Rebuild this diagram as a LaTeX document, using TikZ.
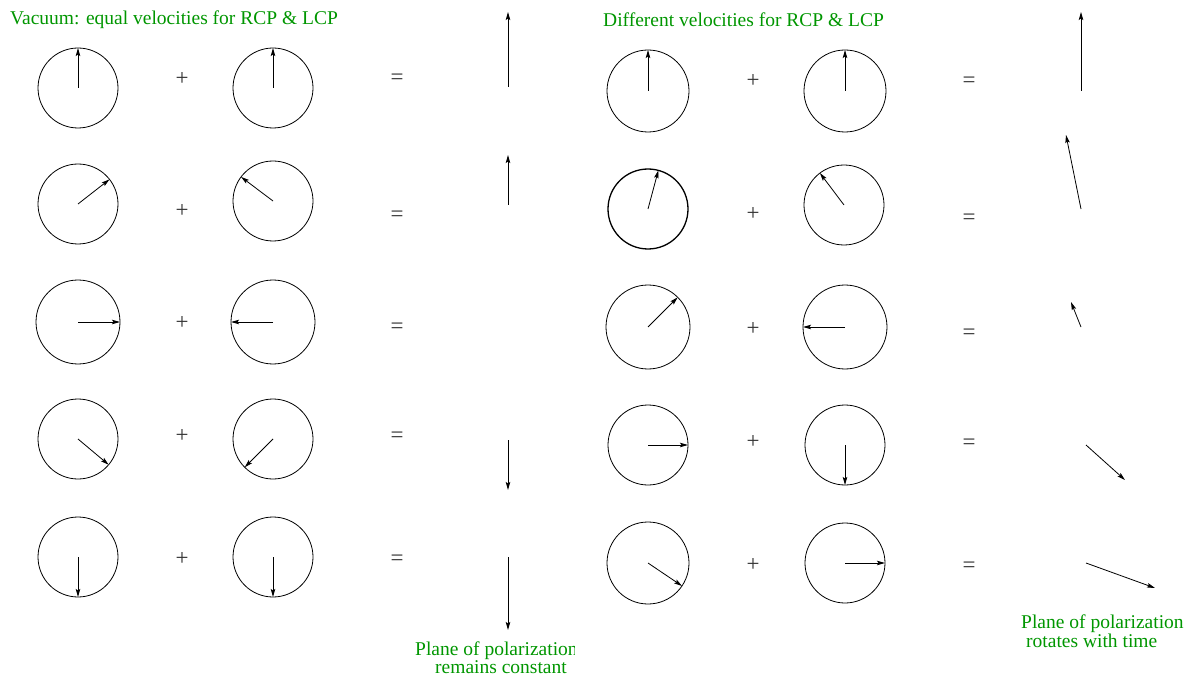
\documentclass[tikz,border=0pt]{standalone}
\usepackage{fontspec}
\setmainfont{Liberation Serif}
\usetikzlibrary{arrows.meta}
\definecolor{labelgreen}{RGB}{0,150,0}
\begin{document}
\begin{tikzpicture}[x=1pt,y=-1pt,
  wheel/.style={circle,draw,line width=0.8pt,inner sep=0pt,outer sep=0pt,minimum size=#1},
  wheel/.default=80pt,
  vec/.style={line width=0.8pt,-{Stealth[length=8pt,width=4.5pt,inset=1.5pt]}},
  op/.style={font=\fontsize{23}{24}\selectfont,text=black!80,anchor=base,inner sep=0pt},
  caption/.style={font=\fontsize{19.5}{20}\selectfont,text=labelgreen,anchor=base west,inner sep=0pt}]
\useasboundingbox (0,0) rectangle (1184,679);

% ---------------- vacuum: equal phase velocities ----------------
\node[caption] (titleL) at (10,25) {Vacuum: equal velocities for RCP \& LCP};

% row 1
\node[wheel] (L1a) at (78,88) {};
\node[wheel] (L1b) at (273,88) {};
\draw[vec] (L1a.center) -- (L1a.90);
\draw[vec] (L1b.center) -- (L1b.90);
\node[op] (L1p) at (182,86) {+};
\node[op] (L1e) at (397,85) {=};
\coordinate (L1s) at (508,87); \coordinate (L1t) at (508,12);
\draw[vec] (L1s) -- (L1t);

% row 2
\node[wheel] (L2a) at (78,204) {};
\node[wheel] (L2b) at (273,201) {};
\draw[vec] (L2a.center) -- (L2a.38);
\draw[vec] (L2b.center) -- (L2b.143);
\node[op] (L2p) at (182,218) {+};
\node[op] (L2e) at (397,222) {=};
\coordinate (L2s) at (508,205); \coordinate (L2t) at (508,155);
\draw[vec] (L2s) -- (L2t);

% row 3
\node[wheel=84pt] (L3a) at (78,322) {};
\node[wheel=84pt] (L3b) at (273,322) {};
\draw[vec] (L3a.center) -- (L3a.0);
\draw[vec] (L3b.center) -- (L3b.180);
\node[op] (L3p) at (182,330) {+};
\node[op] (L3e) at (397,334) {=};

% row 4
\node[wheel] (L4a) at (78,439) {};
\node[wheel] (L4b) at (273,439) {};
\draw[vec] (L4a.center) -- (L4a.-40);
\draw[vec] (L4b.center) -- (L4b.225);
\node[op] (L4p) at (182,442) {+};
\node[op] (L4e) at (397,442) {=};
\coordinate (L4s) at (508,440); \coordinate (L4t) at (508,490);
\draw[vec] (L4s) -- (L4t);

% row 5
\node[wheel] (L5a) at (78,557) {};
\node[wheel] (L5b) at (273,557) {};
\draw[vec] (L5a.center) -- (L5a.270);
\draw[vec] (L5b.center) -- (L5b.270);
\node[op] (L5p) at (182,565) {+};
\node[op] (L5e) at (397,565) {=};
\coordinate (L5s) at (508,557); \coordinate (L5t) at (508,630);
\draw[vec] (L5s) -- (L5t);

\begin{scope}
  \clip (0,0) rectangle (574,679);
  \node[caption] (capL1) at (415,655) {Plane of polarization};
\end{scope}
\node[caption] (capL2) at (435,673) {remains constant};

% ---------------- medium: different phase velocities ----------------
\node[caption] (titleR) at (603,27) {Different velocities for RCP \& LCP};

% row 1
\node[wheel=82pt] (R1a) at (648,91) {};
\node[wheel=82pt] (R1b) at (845,91) {};
\draw[vec] (R1a.center) -- (R1a.90);
\draw[vec] (R1b.center) -- (R1b.90);
\node[op] (R1p) at (753,88) {+};
\node[op] (R1e) at (969,88) {=};
\coordinate (R1s) at (1081,91); \coordinate (R1t) at (1081,12);
\draw[vec] (R1s) -- (R1t);

% row 2
\node[wheel,line width=1.3pt] (R2a) at (648,209) {};
\node[wheel] (R2b) at (844,205) {};
\draw[vec] (R2a.center) -- (R2a.75);
\draw[vec] (R2b.center) -- (R2b.127);
\node[op] (R2p) at (753,221) {+};
\node[op] (R2e) at (969,225) {=};
\coordinate (R2s) at (1081,209); \coordinate (R2t) at (1066,135);
\draw[vec] (R2s) -- (R2t);

% row 3
\node[wheel=84pt] (R3a) at (648,327) {};
\node[wheel=84pt] (R3b) at (845,327) {};
\draw[vec] (R3a.center) -- (R3a.45);
\draw[vec] (R3b.center) -- (R3b.180);
\node[op] (R3p) at (753,335) {+};
\node[op] (R3e) at (969,339) {=};
\coordinate (R3s) at (1081,327); \coordinate (R3t) at (1071,302);
\draw[vec] (R3s) -- (R3t);

% row 4
\node[wheel] (R4a) at (648,445) {};
\node[wheel] (R4b) at (845,445) {};
\draw[vec] (R4a.center) -- (R4a.0);
\draw[vec] (R4b.center) -- (R4b.270);
\node[op] (R4p) at (753,448) {+};
\node[op] (R4e) at (969,449) {=};
\coordinate (R4s) at (1086,445); \coordinate (R4t) at (1125,480);
\draw[vec] (R4s) -- (R4t);

% row 5
\node[wheel=82pt] (R5a) at (648,563) {};
\node[wheel] (R5b) at (845,563) {};
\draw[vec] (R5a.center) -- (R5a.-34);
\draw[vec] (R5b.center) -- (R5b.0);
\node[op] (R5p) at (753,571) {+};
\node[op] (R5e) at (969,572) {=};
\coordinate (R5s) at (1086,563); \coordinate (R5t) at (1155,588);
\draw[vec] (R5s) -- (R5t);

\begin{scope}
  \clip (0,0) rectangle (1184,679);
  \node[caption] (capR1) at (1021,628) {Plane of polarization};
  \node[caption] (capR2) at (1026,647) {rotates with time};
\end{scope}
\end{tikzpicture}
\end{document}
